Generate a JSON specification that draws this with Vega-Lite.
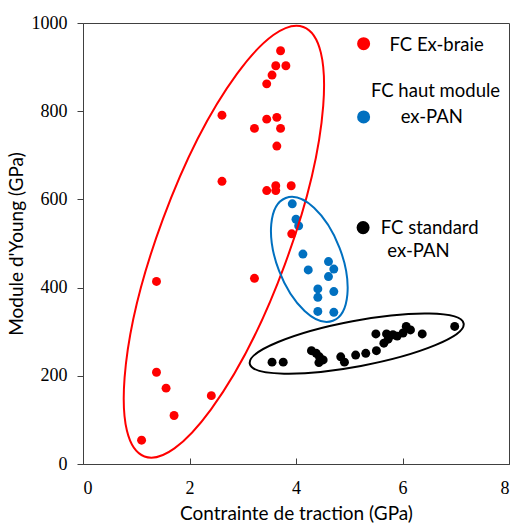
{
  "$schema": "https://vega.github.io/schema/vega-lite/v6.json",
  "width": 426,
  "height": 441,
  "autosize": {"type": "none"},
  "padding": {"left": 83, "top": 23, "right": 7, "bottom": 63},
  "background": "white",
  "config": {
    "view": {"stroke": "#404040", "strokeWidth": 1},
    "font": "Lato",
    "axis": {"grid": false, "domainColor": "#404040", "tickColor": "#404040", "labelColor": "#000000", "titleColor": "#000000", "labelFont": "Liberation Serif", "labelFontSize": 18, "titleFont": "Lato", "titleFontSize": 19, "titleFontWeight": "normal"}
  },
  "datasets": {
    "pts": [
      {"x": 3.71, "y": 937, "type": "FC Ex-braie"},
      {"x": 3.62, "y": 903, "type": "FC Ex-braie"},
      {"x": 3.81, "y": 903, "type": "FC Ex-braie"},
      {"x": 3.55, "y": 882, "type": "FC Ex-braie"},
      {"x": 3.45, "y": 862, "type": "FC Ex-braie"},
      {"x": 2.61, "y": 791, "type": "FC Ex-braie"},
      {"x": 3.45, "y": 782, "type": "FC Ex-braie"},
      {"x": 3.64, "y": 786, "type": "FC Ex-braie"},
      {"x": 3.22, "y": 761, "type": "FC Ex-braie"},
      {"x": 3.71, "y": 761, "type": "FC Ex-braie"},
      {"x": 3.64, "y": 721, "type": "FC Ex-braie"},
      {"x": 2.61, "y": 641, "type": "FC Ex-braie"},
      {"x": 3.45, "y": 620, "type": "FC Ex-braie"},
      {"x": 3.62, "y": 631, "type": "FC Ex-braie"},
      {"x": 3.62, "y": 620, "type": "FC Ex-braie"},
      {"x": 3.91, "y": 631, "type": "FC Ex-braie"},
      {"x": 3.92, "y": 522, "type": "FC Ex-braie"},
      {"x": 1.38, "y": 414, "type": "FC Ex-braie"},
      {"x": 3.22, "y": 421, "type": "FC Ex-braie"},
      {"x": 1.38, "y": 208, "type": "FC Ex-braie"},
      {"x": 1.56, "y": 172, "type": "FC Ex-braie"},
      {"x": 2.41, "y": 155, "type": "FC Ex-braie"},
      {"x": 1.71, "y": 110, "type": "FC Ex-braie"},
      {"x": 1.10, "y": 54, "type": "FC Ex-braie"},
      {"x": 3.93, "y": 590, "type": "FC haut module ex-PAN"},
      {"x": 4.00, "y": 555, "type": "FC haut module ex-PAN"},
      {"x": 4.05, "y": 540, "type": "FC haut module ex-PAN"},
      {"x": 4.13, "y": 476, "type": "FC haut module ex-PAN"},
      {"x": 4.23, "y": 440, "type": "FC haut module ex-PAN"},
      {"x": 4.61, "y": 459, "type": "FC haut module ex-PAN"},
      {"x": 4.71, "y": 442, "type": "FC haut module ex-PAN"},
      {"x": 4.61, "y": 425, "type": "FC haut module ex-PAN"},
      {"x": 4.41, "y": 397, "type": "FC haut module ex-PAN"},
      {"x": 4.41, "y": 378, "type": "FC haut module ex-PAN"},
      {"x": 4.71, "y": 391, "type": "FC haut module ex-PAN"},
      {"x": 4.41, "y": 346, "type": "FC haut module ex-PAN"},
      {"x": 4.71, "y": 344, "type": "FC haut module ex-PAN"},
      {"x": 3.55, "y": 231, "type": "FC standard ex-PAN"},
      {"x": 3.76, "y": 231, "type": "FC standard ex-PAN"},
      {"x": 4.29, "y": 257, "type": "FC standard ex-PAN"},
      {"x": 4.38, "y": 251, "type": "FC standard ex-PAN"},
      {"x": 4.44, "y": 243, "type": "FC standard ex-PAN"},
      {"x": 4.43, "y": 230, "type": "FC standard ex-PAN"},
      {"x": 4.51, "y": 236, "type": "FC standard ex-PAN"},
      {"x": 4.84, "y": 243, "type": "FC standard ex-PAN"},
      {"x": 4.91, "y": 231, "type": "FC standard ex-PAN"},
      {"x": 5.12, "y": 247, "type": "FC standard ex-PAN"},
      {"x": 5.31, "y": 251, "type": "FC standard ex-PAN"},
      {"x": 5.51, "y": 257, "type": "FC standard ex-PAN"},
      {"x": 5.50, "y": 295, "type": "FC standard ex-PAN"},
      {"x": 5.70, "y": 295, "type": "FC standard ex-PAN"},
      {"x": 5.65, "y": 274, "type": "FC standard ex-PAN"},
      {"x": 5.73, "y": 283, "type": "FC standard ex-PAN"},
      {"x": 5.82, "y": 293, "type": "FC standard ex-PAN"},
      {"x": 5.90, "y": 290, "type": "FC standard ex-PAN"},
      {"x": 6.01, "y": 297, "type": "FC standard ex-PAN"},
      {"x": 6.07, "y": 312, "type": "FC standard ex-PAN"},
      {"x": 6.15, "y": 304, "type": "FC standard ex-PAN"},
      {"x": 6.37, "y": 295, "type": "FC standard ex-PAN"},
      {"x": 6.98, "y": 312, "type": "FC standard ex-PAN"}
    ],
    "groups": [
      {"type": "FC Ex-braie", "x": 2.646, "y": 504},
      {"type": "FC haut module ex-PAN", "x": 4.25, "y": 464},
      {"type": "FC standard ex-PAN", "x": 5.14, "y": 273}
    ],
    "legendDots": [
      {"type": "FC Ex-braie", "x": 5.27, "y": 953},
      {"type": "FC haut module ex-PAN", "x": 5.27, "y": 787},
      {"type": "FC standard ex-PAN", "x": 5.26, "y": 536}
    ],
    "legendText": [
      {"text": "FC Ex-braie", "x": 6.64, "y": 951},
      {"text": "FC haut module", "x": 6.62, "y": 845},
      {"text": "ex-PAN", "x": 6.55, "y": 786},
      {"text": "FC standard", "x": 6.51, "y": 536},
      {"text": "ex-PAN", "x": 6.30, "y": 482}
    ]
  },
  "encoding": {
    "x": {"field": "x", "type": "quantitative", "scale": {"domain": [0, 8], "nice": false, "zero": false},
      "axis": {"values": [0, 2, 4, 6, 8], "format": "d", "title": "Contrainte de traction (GPa)", "tickSize": -6, "labelPadding": 21, "titlePadding": 7}},
    "y": {"field": "y", "type": "quantitative", "scale": {"domain": [0, 1000], "nice": false, "zero": false},
      "axis": {"values": [0, 200, 400, 600, 800, 1000], "format": "d", "title": "Module d'Young (GPa)", "tickSize": 6, "labelPadding": 10, "titlePadding": 5}}
  },
  "layer": [
    {
      "data": {"name": "pts"},
      "mark": {"type": "point", "filled": true, "opacity": 1, "size": 80},
      "encoding": {
        "color": {"field": "type", "type": "nominal", "legend": null,
          "scale": {"domain": ["FC Ex-braie", "FC haut module ex-PAN", "FC standard ex-PAN"], "range": ["#ff0000", "#0070c0", "#000000"]}},
        "shape": {"value": "circle"}
      }
    },
    {
      "data": {"name": "legendDots"},
      "mark": {"type": "point", "filled": true, "opacity": 1, "size": 170, "shape": "circle"},
      "encoding": {
        "color": {"field": "type", "type": "nominal", "legend": null}
      }
    },
    {
      "data": {"name": "groups"},
      "transform": [{"filter": "datum.type === 'FC Ex-braie'"}],
      "mark": {"type": "point", "filled": false, "opacity": 1, "stroke": "#ff0000", "strokeWidth": 2,
        "shape": "M 0 -1 A 0.284 1 0 1 0 0 1 A 0.284 1 0 1 0 0 -1 Z", "size": 209764, "angle": 20.3}
    },
    {
      "data": {"name": "groups"},
      "transform": [{"filter": "datum.type === 'FC haut module ex-PAN'"}],
      "mark": {"type": "point", "filled": false, "opacity": 1, "stroke": "#0070c0", "strokeWidth": 2,
        "shape": "M 0 -1 A 0.492 1 0 1 0 0 1 A 0.492 1 0 1 0 0 -1 Z", "size": 17318, "angle": -21}
    },
    {
      "data": {"name": "groups"},
      "transform": [{"filter": "datum.type === 'FC standard ex-PAN'"}],
      "mark": {"type": "point", "filled": false, "opacity": 1, "stroke": "#000000", "strokeWidth": 2,
        "shape": "M -1 0 A 1 0.209 0 1 0 1 0 A 1 0.209 0 1 0 -1 0 Z", "size": 47350, "angle": -10.65}
    },
    {
      "data": {"name": "legendText"},
      "mark": {"type": "text", "font": "Lato", "fontSize": 18.5, "color": "#000000", "align": "center", "baseline": "middle"},
      "encoding": {"text": {"field": "text"}}
    }
  ]
}
